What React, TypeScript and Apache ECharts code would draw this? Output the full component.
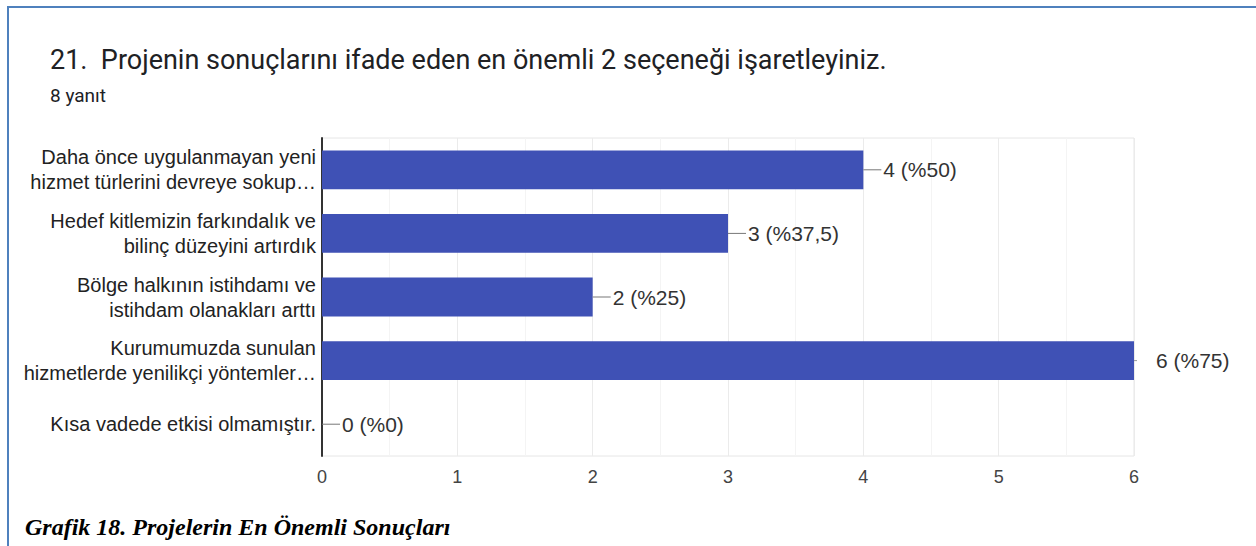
import React, { useEffect, useRef } from "react";
import * as echarts from "echarts";

const titleText = "21.  Projenin sonuçlarını ifade eden en önemli 2 seçeneği işaretleyiniz.";
const subtitleText = "8 yanıt";
const captionText = "Grafik 18. Projelerin En Önemli Sonuçları";

const categories = [
  "Daha önce uygulanmayan yeni\nhizmet türlerini devreye sokup…",
  "Hedef kitlemizin farkındalık ve\nbilinç düzeyini artırdık",
  "Bölge halkının istihdamı ve\nistihdam olanakları arttı",
  "Kurumumuzda sunulan\nhizmetlerde yenilikçi yöntemler…",
  "Kısa vadede etkisi olmamıştır.",
];
const counts = [4, 3, 2, 6, 0];
const percents = ["50", "37,5", "25", "75", "0"];
const xMin = 0;
const xMax = 6;
const xInterval = 1;

export default function App() {
  const ref = useRef<HTMLDivElement>(null);
  useEffect(() => {
    document.body.style.margin = "0";
    if (!ref.current) return;
    const chart = echarts.init(ref.current, undefined, { renderer: "svg" });
    const labelFont = "'Liberation Sans', Arial, sans-serif";
    chart.setOption({
      animation: false,
      backgroundColor: "#ffffff",
      title: [
        {
          text: titleText,
          left: 45,
          top: 41,
          textStyle: { fontFamily: "Roboto", fontSize: 27, fontWeight: "normal", color: "#202124" },
        },
        {
          text: subtitleText,
          left: 45,
          top: 81,
          textStyle: { fontFamily: "Roboto", fontSize: 19, fontWeight: "normal", color: "#202124" },
        },
        {
          text: captionText,
          left: 20,
          top: 510,
          textStyle: {
            fontFamily: "'Liberation Serif', 'Times New Roman', serif",
            fontSize: 24,
            fontWeight: "bold",
            fontStyle: "italic",
            color: "#000000",
          },
        },
      ],
      graphic: [
        { type: "rect", shape: { x: 7, y: 6, width: 1249, height: 2 }, style: { fill: "#4f81bd" }, silent: true },
        { type: "rect", shape: { x: 7, y: 6, width: 2, height: 540 }, style: { fill: "#4f81bd" }, silent: true },
      ],
      grid: {
        left: 322,
        right: 122,
        top: 138,
        bottom: 90,
        show: true,
        borderColor: "#e6e6e6",
        borderWidth: 1,
      },
      xAxis: {
        type: "value",
        min: xMin,
        max: xMax,
        interval: xInterval,
        axisLine: { show: false },
        axisTick: { show: false },
        splitLine: { show: true, lineStyle: { color: "#ebebeb", width: 1 } },
        minorTick: { show: false, splitNumber: 2 },
        minorSplitLine: { show: true, lineStyle: { color: "#f4f4f4", width: 1 } },
        axisLabel: { fontFamily: labelFont, fontSize: 18, color: "#444444", margin: 12 },
      },
      yAxis: {
        type: "category",
        inverse: true,
        data: categories,
        axisLine: { show: true, lineStyle: { color: "#333333", width: 2 } },
        axisTick: { show: false },
        splitLine: { show: false },
        axisLabel: {
          fontFamily: labelFont,
          fontSize: 20,
          lineHeight: 25,
          color: "#222222",
          margin: 6,
          align: "right",
        },
      },
      series: [
        {
          type: "bar",
          data: counts,
          barCategoryGap: "39%",
          itemStyle: { color: "#3f51b5" },
          label: {
            show: true,
            position: "right",
            distance: 0,
            formatter: (p: any) => {
              const i = p.dataIndex;
              const txt = `${counts[i]} (%${percents[i]})`;
              if (counts[i] === xMax) return `{tk| }{gap| }{t|${txt}}`;
              return `{ln| }{t|${txt}}`;
            },
            rich: {
              ln: { width: 18, height: 1, backgroundColor: "#777777", verticalAlign: "middle", fontSize: 1 },
              tk: { width: 3, height: 1, backgroundColor: "#999999", verticalAlign: "middle", fontSize: 1 },
              gap: { width: 17, height: 1, verticalAlign: "middle", fontSize: 1 },
              t: { fontFamily: labelFont, fontSize: 21, color: "#333333", padding: [0, 0, 0, 2], verticalAlign: "middle" },
            },
          },
        },
      ],
    });
    return () => chart.dispose();
  }, []);
  return <div ref={ref} style={{ width: 1256, height: 546 }} />;
}
